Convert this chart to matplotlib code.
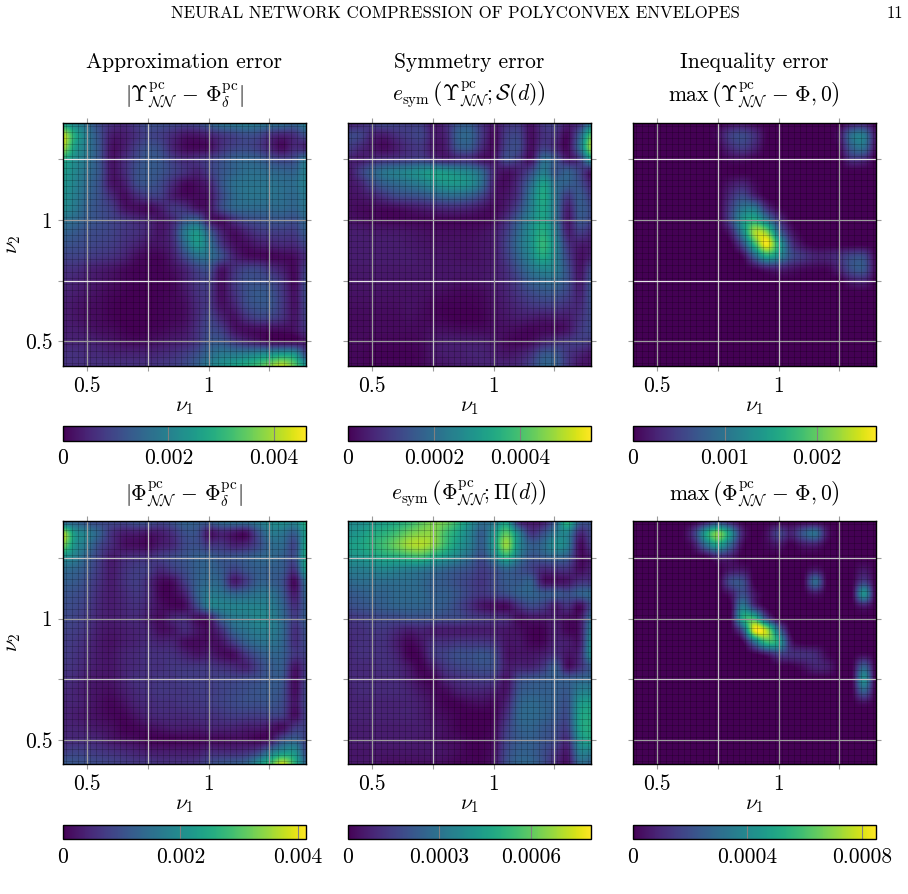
# error maps over (nu1, nu2) for the two network architectures
import numpy as np
import matplotlib
matplotlib.use('Agg')
import matplotlib.pyplot as plt

plt.rcParams['font.family'] = 'cmr10'
plt.rcParams['mathtext.fontset'] = 'cm'
plt.rcParams['axes.formatter.use_mathtext'] = True

W, H = 908, 894
FS = 15.5

nu = np.arange(21) * 0.05 + 0.4

# percent of the colorbar maximum, rows run from nu2 = 1.4 down to nu2 = 0.4
ups_approx = [
    [55, 45, 35, 22, 14, 12, 18, 24, 24, 22, 20, 22, 30, 38, 40, 42, 40, 38, 36, 32, 45],
    [92, 60, 40, 24, 8, 8, 14, 20, 18, 12, 6, 6, 10, 16, 20, 24, 22, 14, 10, 14, 25],
    [88, 55, 40, 25, 5, 8, 18, 25, 22, 10, 3, 2, 4, 14, 20, 22, 18, 10, 3, 12, 10],
    [62, 48, 38, 25, 6, 12, 22, 28, 26, 18, 12, 14, 18, 24, 30, 32, 30, 24, 20, 24, 40],
    [55, 46, 36, 26, 6, 12, 24, 28, 26, 20, 14, 10, 18, 26, 32, 36, 36, 34, 32, 32, 45],
    [52, 44, 34, 24, 6, 8, 22, 26, 22, 12, 3, 4, 10, 26, 36, 38, 38, 38, 36, 36, 45],
    [50, 42, 32, 24, 12, 4, 12, 18, 18, 8, 3, 3, 6, 22, 34, 38, 38, 38, 36, 34, 42],
    [48, 40, 30, 24, 18, 6, 4, 3, 8, 16, 14, 6, 6, 22, 32, 34, 34, 34, 34, 32, 40],
    [38, 34, 28, 24, 20, 16, 12, 10, 6, 12, 26, 30, 8, 4, 14, 22, 24, 26, 26, 24, 34],
    [32, 28, 24, 22, 20, 16, 14, 10, 6, 14, 40, 52, 30, 10, 4, 10, 16, 18, 18, 18, 30],
    [26, 24, 22, 20, 18, 14, 10, 6, 6, 12, 34, 52, 38, 16, 5, 4, 8, 10, 12, 12, 22],
    [20, 20, 18, 16, 14, 10, 4, 2, 2, 8, 22, 36, 36, 24, 10, 4, 3, 2, 3, 4, 14],
    [14, 14, 10, 8, 6, 3, 1, 1, 1, 4, 10, 20, 24, 6, 14, 20, 20, 14, 8, 3, 20],
    [12, 10, 8, 6, 4, 2, 1, 1, 1, 2, 8, 16, 18, 4, 16, 24, 24, 22, 14, 3, 24],
    [10, 8, 6, 4, 2, 1, 0, 0, 1, 2, 6, 14, 16, 4, 14, 24, 28, 26, 16, 5, 24],
    [8, 6, 4, 3, 1, 0, 0, 0, 1, 2, 4, 12, 16, 5, 10, 22, 26, 26, 16, 5, 22],
    [8, 6, 4, 3, 1, 0, 0, 0, 1, 2, 4, 12, 20, 10, 5, 14, 20, 20, 14, 6, 20],
    [8, 8, 6, 4, 3, 1, 0, 1, 2, 4, 6, 14, 22, 18, 6, 4, 4, 4, 4, 5, 16],
    [10, 10, 10, 8, 6, 4, 3, 4, 6, 8, 10, 16, 26, 26, 18, 12, 8, 4, 3, 3, 8],
    [14, 14, 12, 12, 10, 10, 10, 10, 12, 14, 18, 24, 34, 40, 40, 42, 46, 50, 54, 50, 22],
    [14, 14, 14, 14, 14, 14, 14, 14, 16, 18, 22, 30, 42, 50, 56, 62, 70, 82, 90, 75, 50],
]

ups_sym = [
    [8, 12, 18, 22, 20, 18, 18, 6, 12, 26, 28, 14, 6, 14, 16, 5, 16, 18, 8, 14, 40],
    [22, 20, 10, 8, 14, 18, 20, 8, 10, 30, 32, 16, 3, 18, 20, 4, 14, 14, 3, 30, 75],
    [18, 12, 6, 3, 8, 14, 16, 6, 8, 26, 28, 12, 3, 20, 22, 4, 18, 12, 3, 36, 88],
    [10, 8, 12, 14, 16, 18, 20, 14, 10, 14, 14, 6, 6, 22, 16, 5, 34, 26, 8, 18, 55],
    [6, 18, 30, 38, 42, 46, 50, 54, 52, 48, 44, 32, 10, 5, 10, 22, 42, 26, 30, 20, 6],
    [6, 10, 22, 30, 34, 38, 42, 48, 52, 52, 48, 34, 8, 4, 14, 34, 56, 36, 30, 24, 10],
    [5, 6, 10, 16, 22, 24, 26, 30, 34, 34, 30, 20, 6, 6, 16, 40, 60, 38, 18, 28, 16],
    [4, 3, 3, 3, 4, 6, 8, 10, 12, 12, 10, 6, 3, 8, 22, 42, 58, 38, 10, 28, 22],
    [5, 4, 3, 2, 2, 2, 2, 2, 2, 2, 2, 2, 4, 14, 30, 46, 58, 38, 8, 26, 20],
    [8, 8, 7, 7, 7, 6, 5, 4, 4, 4, 4, 5, 8, 18, 34, 50, 62, 42, 10, 18, 12],
    [8, 8, 8, 8, 8, 7, 6, 5, 5, 5, 5, 6, 8, 20, 36, 50, 66, 46, 16, 8, 8],
    [8, 8, 8, 8, 8, 8, 7, 6, 6, 5, 5, 6, 8, 18, 32, 46, 60, 44, 20, 5, 10],
    [7, 7, 7, 7, 7, 7, 7, 6, 6, 6, 6, 6, 8, 14, 26, 38, 46, 42, 24, 6, 22],
    [6, 6, 6, 6, 6, 6, 6, 6, 6, 5, 5, 6, 8, 12, 20, 30, 34, 34, 24, 8, 26],
    [5, 5, 5, 5, 5, 5, 5, 4, 3, 2, 2, 3, 6, 10, 16, 22, 26, 26, 20, 10, 26],
    [4, 4, 4, 4, 4, 5, 4, 2, 1, 1, 1, 2, 5, 8, 12, 16, 18, 18, 14, 12, 24],
    [3, 3, 3, 3, 3, 4, 3, 2, 1, 0, 0, 1, 4, 6, 8, 8, 7, 8, 8, 14, 22],
    [3, 3, 3, 3, 3, 3, 3, 4, 4, 3, 3, 3, 4, 4, 3, 2, 3, 3, 6, 16, 22],
    [3, 3, 2, 2, 2, 2, 3, 6, 8, 8, 8, 8, 6, 3, 2, 4, 10, 14, 16, 18, 16],
    [2, 2, 1, 1, 1, 1, 2, 6, 8, 8, 10, 10, 8, 6, 8, 14, 26, 26, 16, 10, 6],
    [2, 2, 1, 1, 1, 1, 2, 5, 6, 8, 8, 10, 10, 10, 12, 20, 32, 30, 16, 6, 5],
]

ups_ineq = [
    [0, 0, 0, 0, 0, 0, 0, 0, 4, 6, 2, 0, 0, 0, 0, 0, 0, 0, 8, 10, 0],
    [0, 0, 0, 0, 0, 0, 0, 4, 18, 22, 14, 1, 0, 0, 0, 0, 0, 6, 36, 40, 6],
    [0, 0, 0, 0, 0, 0, 0, 1, 12, 18, 10, 0, 0, 0, 0, 0, 0, 3, 30, 36, 4],
    [0, 0, 0, 0, 0, 0, 0, 0, 3, 4, 1, 0, 0, 0, 0, 0, 0, 0, 14, 12, 0],
    [0, 0, 0, 0, 0, 0, 0, 0, 0, 0, 0, 0, 0, 0, 0, 0, 0, 0, 0, 0, 0],
    [0, 0, 0, 0, 0, 0, 0, 0, 6, 10, 3, 0, 0, 0, 0, 0, 0, 0, 0, 0, 0],
    [0, 0, 0, 0, 0, 0, 0, 0, 12, 22, 10, 0, 0, 0, 0, 0, 0, 0, 0, 0, 0],
    [0, 0, 0, 0, 0, 0, 0, 0, 18, 38, 40, 14, 2, 0, 0, 0, 0, 0, 0, 0, 0],
    [0, 0, 0, 0, 0, 0, 0, 0, 20, 50, 62, 42, 16, 1, 0, 0, 0, 0, 0, 0, 0],
    [0, 0, 0, 0, 0, 0, 0, 0, 8, 44, 86, 82, 36, 8, 0, 0, 0, 0, 0, 0, 0],
    [0, 0, 0, 0, 0, 0, 0, 0, 0, 22, 66, 98, 60, 18, 4, 0, 0, 0, 0, 0, 0],
    [0, 0, 0, 0, 0, 0, 0, 0, 0, 2, 30, 58, 46, 24, 16, 10, 10, 14, 22, 22, 2],
    [0, 0, 0, 0, 0, 0, 0, 0, 0, 0, 2, 8, 10, 6, 3, 2, 2, 10, 24, 26, 3],
    [0, 0, 0, 0, 0, 0, 0, 0, 0, 0, 0, 0, 0, 0, 0, 0, 0, 0, 8, 10, 0],
    [0, 0, 0, 0, 0, 0, 0, 0, 0, 0, 0, 0, 0, 0, 0, 0, 0, 0, 0, 0, 0],
    [0, 0, 0, 0, 0, 0, 0, 0, 0, 0, 0, 0, 0, 0, 0, 0, 0, 0, 0, 0, 0],
    [0, 0, 0, 0, 0, 0, 0, 0, 0, 0, 0, 0, 0, 0, 0, 0, 0, 0, 0, 0, 0],
    [0, 0, 0, 0, 0, 0, 0, 0, 0, 0, 0, 0, 0, 0, 0, 0, 0, 0, 0, 0, 0],
    [0, 0, 0, 0, 0, 0, 0, 0, 0, 0, 0, 0, 0, 0, 0, 0, 0, 0, 0, 0, 0],
    [0, 0, 0, 0, 0, 0, 0, 0, 0, 0, 0, 0, 0, 0, 0, 0, 0, 0, 0, 0, 0],
    [0, 0, 0, 0, 0, 0, 0, 0, 0, 0, 0, 0, 0, 0, 0, 0, 0, 0, 0, 0, 0],
]

phi_approx = [
    [28, 30, 24, 22, 22, 22, 26, 26, 22, 26, 32, 30, 30, 36, 38, 38, 42, 48, 50, 46, 65],
    [88, 52, 42, 30, 14, 8, 8, 6, 8, 14, 24, 24, 6, 10, 6, 4, 24, 40, 38, 30, 58],
    [80, 50, 38, 22, 12, 5, 4, 3, 8, 12, 22, 24, 16, 16, 10, 12, 22, 34, 34, 22, 62],
    [50, 42, 30, 18, 8, 12, 14, 14, 18, 22, 26, 30, 30, 26, 26, 28, 32, 34, 30, 24, 62],
    [35, 32, 26, 16, 8, 14, 18, 18, 12, 18, 24, 30, 32, 28, 20, 26, 30, 30, 28, 16, 58],
    [30, 28, 22, 14, 8, 14, 18, 12, 3, 4, 18, 30, 34, 30, 8, 18, 30, 30, 24, 3, 40],
    [26, 24, 20, 12, 8, 12, 16, 12, 2, 2, 10, 30, 40, 38, 32, 34, 38, 38, 28, 8, 34],
    [24, 22, 18, 11, 8, 11, 14, 10, 4, 2, 4, 22, 42, 44, 44, 44, 44, 42, 32, 14, 30],
    [22, 20, 16, 10, 8, 10, 12, 8, 4, 10, 12, 5, 8, 30, 40, 42, 46, 44, 34, 18, 30],
    [20, 18, 14, 8, 6, 8, 10, 10, 4, 6, 12, 6, 4, 14, 32, 38, 42, 42, 34, 14, 26],
    [18, 16, 12, 7, 5, 8, 10, 12, 10, 10, 4, 3, 4, 6, 18, 30, 36, 38, 32, 14, 24],
    [18, 15, 11, 7, 6, 10, 12, 14, 14, 14, 10, 6, 8, 4, 4, 16, 26, 32, 30, 16, 20],
    [16, 14, 10, 7, 6, 10, 12, 14, 14, 16, 16, 16, 16, 14, 12, 10, 20, 28, 28, 6, 18],
    [14, 12, 8, 6, 6, 10, 14, 14, 16, 16, 18, 18, 18, 20, 20, 22, 24, 28, 26, 4, 20],
    [12, 10, 7, 5, 4, 8, 12, 14, 16, 16, 16, 18, 18, 20, 22, 24, 26, 28, 24, 4, 22],
    [10, 10, 7, 4, 2, 5, 10, 12, 14, 14, 16, 16, 18, 20, 22, 24, 24, 26, 22, 6, 22],
    [10, 8, 6, 4, 2, 2, 6, 10, 12, 12, 12, 14, 14, 16, 18, 18, 18, 20, 18, 4, 20],
    [10, 10, 8, 6, 4, 1, 2, 4, 6, 8, 8, 8, 10, 10, 10, 8, 8, 6, 4, 16, 20],
    [12, 12, 12, 10, 6, 4, 3, 1, 1, 1, 2, 2, 3, 3, 4, 4, 2, 6, 24, 30, 20],
    [18, 20, 18, 16, 14, 12, 10, 8, 8, 8, 8, 8, 12, 12, 12, 14, 20, 38, 50, 50, 22],
    [28, 26, 24, 22, 20, 18, 16, 16, 14, 14, 14, 16, 22, 26, 28, 32, 50, 70, 92, 65, 32],
]

phi_sym = [
    [48, 48, 52, 56, 60, 66, 74, 80, 78, 66, 50, 36, 40, 55, 12, 6, 8, 30, 66, 30, 26],
    [50, 54, 60, 64, 70, 78, 82, 82, 70, 58, 44, 30, 52, 74, 44, 16, 24, 40, 44, 12, 22],
    [56, 58, 64, 70, 78, 86, 88, 82, 68, 54, 42, 30, 55, 84, 48, 30, 34, 48, 42, 4, 18],
    [50, 52, 56, 60, 62, 66, 68, 60, 52, 44, 34, 24, 42, 62, 40, 26, 28, 32, 28, 4, 8],
    [42, 42, 44, 46, 44, 42, 40, 36, 32, 28, 24, 18, 24, 32, 26, 20, 12, 14, 14, 4, 10],
    [34, 36, 36, 36, 36, 36, 34, 30, 28, 24, 20, 16, 22, 28, 28, 30, 6, 5, 6, 14, 16],
    [28, 30, 32, 32, 34, 34, 34, 30, 30, 26, 20, 16, 20, 24, 30, 32, 28, 28, 24, 30, 34],
    [24, 26, 28, 30, 32, 32, 32, 30, 28, 22, 14, 6, 4, 3, 14, 22, 18, 8, 14, 3, 24],
    [16, 18, 20, 22, 22, 24, 24, 24, 22, 22, 18, 16, 14, 12, 4, 6, 6, 8, 4, 6, 36],
    [14, 14, 16, 16, 12, 8, 10, 8, 8, 8, 8, 8, 8, 6, 4, 1, 1, 8, 2, 6, 44],
    [12, 14, 14, 14, 8, 2, 6, 14, 14, 16, 16, 16, 14, 6, 6, 2, 2, 10, 8, 8, 50],
    [12, 14, 14, 14, 10, 1, 3, 16, 20, 24, 24, 26, 22, 6, 6, 6, 8, 14, 6, 12, 50],
    [12, 12, 12, 14, 12, 6, 1, 8, 16, 20, 22, 24, 22, 8, 10, 10, 16, 28, 5, 14, 30],
    [12, 12, 12, 12, 12, 8, 3, 2, 10, 14, 16, 18, 16, 6, 22, 26, 28, 30, 28, 32, 34],
    [10, 12, 12, 12, 12, 10, 6, 3, 3, 8, 10, 10, 8, 6, 26, 30, 30, 30, 28, 42, 44],
    [10, 10, 10, 10, 10, 10, 8, 4, 1, 1, 3, 4, 3, 10, 30, 34, 32, 30, 26, 52, 56],
    [10, 10, 10, 10, 10, 10, 8, 5, 3, 1, 0, 0, 2, 14, 32, 34, 32, 28, 24, 56, 60],
    [8, 8, 8, 8, 8, 8, 8, 6, 4, 1, 0, 0, 3, 18, 30, 32, 28, 24, 20, 56, 62],
    [8, 8, 8, 8, 8, 8, 7, 6, 4, 3, 1, 1, 4, 20, 28, 30, 26, 22, 14, 50, 58],
    [6, 6, 6, 6, 6, 6, 6, 6, 5, 3, 1, 1, 5, 22, 30, 30, 24, 16, 8, 42, 42],
    [6, 6, 6, 4, 4, 4, 4, 4, 3, 1, 1, 1, 6, 24, 32, 32, 24, 12, 5, 34, 30],
]

phi_ineq = [
    [0, 0, 0, 0, 0, 0, 6, 18, 8, 0, 0, 0, 0, 0, 0, 0, 0, 0, 0, 0, 0],
    [0, 0, 0, 0, 0, 16, 56, 80, 52, 10, 0, 4, 20, 10, 26, 36, 6, 0, 0, 0, 0],
    [0, 0, 0, 0, 0, 6, 34, 56, 32, 3, 0, 2, 6, 0, 6, 8, 0, 0, 0, 0, 0],
    [0, 0, 0, 0, 0, 0, 0, 10, 8, 0, 0, 0, 0, 0, 0, 0, 0, 0, 0, 0, 0],
    [0, 0, 0, 0, 0, 0, 0, 0, 6, 6, 0, 0, 0, 0, 0, 6, 0, 0, 0, 6, 0],
    [0, 0, 0, 0, 0, 0, 0, 0, 22, 24, 0, 0, 0, 0, 0, 34, 0, 0, 0, 18, 0],
    [0, 0, 0, 0, 0, 0, 0, 0, 6, 24, 6, 0, 0, 0, 0, 6, 0, 0, 0, 50, 0],
    [0, 0, 0, 0, 0, 0, 0, 0, 0, 40, 14, 0, 0, 0, 0, 0, 0, 0, 0, 8, 0],
    [0, 0, 0, 0, 0, 0, 0, 0, 0, 58, 66, 22, 0, 0, 0, 0, 0, 0, 0, 0, 0],
    [0, 0, 0, 0, 0, 0, 0, 0, 0, 24, 96, 88, 36, 0, 0, 0, 0, 0, 0, 0, 0],
    [0, 0, 0, 0, 0, 0, 0, 0, 0, 0, 34, 66, 56, 8, 0, 0, 0, 0, 0, 0, 0],
    [0, 0, 0, 0, 0, 0, 0, 0, 0, 0, 0, 6, 18, 14, 14, 12, 2, 0, 0, 3, 0],
    [0, 0, 0, 0, 0, 0, 0, 0, 0, 0, 0, 0, 0, 0, 4, 10, 8, 0, 0, 30, 0],
    [0, 0, 0, 0, 0, 0, 0, 0, 0, 0, 0, 0, 0, 0, 0, 0, 0, 0, 0, 48, 0],
    [0, 0, 0, 0, 0, 0, 0, 0, 0, 0, 0, 0, 0, 0, 0, 0, 0, 0, 0, 30, 0],
    [0, 0, 0, 0, 0, 0, 0, 0, 0, 0, 0, 0, 0, 0, 0, 0, 0, 0, 0, 4, 0],
    [0, 0, 0, 0, 0, 0, 0, 0, 0, 0, 0, 0, 0, 0, 0, 0, 0, 0, 0, 0, 0],
    [0, 0, 0, 0, 0, 0, 0, 0, 0, 0, 0, 0, 0, 0, 0, 0, 0, 0, 0, 0, 0],
    [0, 0, 0, 0, 0, 0, 0, 0, 0, 0, 0, 0, 0, 0, 0, 0, 0, 0, 0, 0, 0],
    [0, 0, 0, 0, 0, 0, 0, 0, 0, 0, 0, 0, 0, 0, 0, 0, 0, 0, 0, 0, 0],
    [0, 0, 0, 0, 0, 0, 0, 0, 0, 0, 0, 0, 0, 0, 0, 0, 0, 0, 0, 0, 0],
]

maps = [ups_approx, ups_sym, ups_ineq, phi_approx, phi_sym, phi_ineq]
vmaxs = [0.0046, 0.000564, 0.00264, 0.00413, 0.000796, 0.000848]
cb_ticks = [[0, 0.002, 0.004], [0, 0.0002, 0.0004], [0, 0.001, 0.002],
            [0, 0.002, 0.004], [0, 0.0003, 0.0006], [0, 0.0004, 0.0008]]
cb_labels = [['0', '0.002', '0.004'], ['0', '0.0002', '0.0004'], ['0', '0.001', '0.002'],
             ['0', '0.002', '0.004'], ['0', '0.0003', '0.0006'], ['0', '0.0004', '0.0008']]
titles = [r'$|\Upsilon_{\mathcal{N}\mathcal{N}}^{\mathrm{pc}} \,-\, \Phi_{\delta}^{\mathrm{pc}}|$',
          r'$e_{\mathrm{sym}}\,\left(\Upsilon_{\mathcal{N}\mathcal{N}}^{\mathrm{pc}}; \mathcal{S}(d)\right)$',
          r'$\max\,\left(\Upsilon_{\mathcal{N}\mathcal{N}}^{\mathrm{pc}} \,-\, \Phi, 0\right)$',
          r'$|\Phi_{\mathcal{N}\mathcal{N}}^{\mathrm{pc}} \,-\, \Phi_{\delta}^{\mathrm{pc}}|$',
          r'$e_{\mathrm{sym}}\,\left(\Phi_{\mathcal{N}\mathcal{N}}^{\mathrm{pc}}; \Pi(d)\right)$',
          r'$\max\,\left(\Phi_{\mathcal{N}\mathcal{N}}^{\mathrm{pc}} \,-\, \Phi, 0\right)$']
headers = ['Approximation error', 'Symmetry error', 'Inequality error']
tick_pos = [0.5, 0.75, 1, 1.25]
tick_txt = ['0.5', '', '1', '']

col_left = [62.7, 347.7, 632.7]
row_top = [122.7, 521.3]
cbar_top = [426, 824.5]
side = 243
cbar_h = 14.5

# rule colours per panel: verticals then horizontals at 0.5, 0.75, 1, 1.25
WH = '#e6e6e6'
SOFT = '#c4c4c4'
GR = '#9c9c9c'
v_cols = [[GR, SOFT, GR, GR], [GR, SOFT, GR, GR], [GR, SOFT, SOFT, GR],
          [GR, SOFT, GR, GR], [GR, SOFT, GR, SOFT], [GR, SOFT, GR, GR]]
h_cols = [[GR, WH, GR, WH], [GR, WH, GR, WH], [GR, WH, GR, WH],
          [GR, SOFT, GR, SOFT], [GR, SOFT, GR, SOFT], [GR, SOFT, GR, SOFT]]


def px_axes(fig, left, top, w, h):
    return fig.add_axes([left / W, 1 - (top + h) / H, w / W, h / H])


fig = plt.figure(figsize=(W / 100, H / 100), dpi=100)

for k in range(6):
    r, c = k // 3, k % 3
    ax = px_axes(fig, col_left[c], row_top[r], side, side)
    vals = np.array(maps[k]) / 100 * vmaxs[k]
    im = ax.imshow(vals, cmap='viridis', vmin=0, vmax=vmaxs[k], interpolation='catrom',
                   extent=[0.375, 1.425, 0.375, 1.425], aspect='auto')
    ax.set_xlim(0.4, 1.4)
    ax.set_ylim(0.4, 1.4)

    # thin cell outlines of the evaluation mesh
    mesh = np.arange(0.4125, 1.4, 0.025)
    ax.vlines(mesh, 0.4, 1.4, color='k', alpha=0.2, lw=0.7)
    ax.hlines(mesh, 0.4, 1.4, color='k', alpha=0.2, lw=0.7)

    for p, vc, hc in zip(tick_pos, v_cols[k], h_cols[k]):
        ax.axvline(p, color=vc, lw=0.9)
        ax.axhline(p, color=hc, lw=0.9)

    ax.set_xticks(tick_pos)
    ax.set_xticklabels(tick_txt)
    ax.set_yticks(tick_pos)
    ax.set_yticklabels(tick_txt if c == 0 else ['', '', '', ''])
    ax.tick_params(axis='both', which='both', top=True, right=True, direction='out', length=3.5,
                   width=0.8, color=GR, labelsize=FS, pad=4)
    for s in ax.spines.values():
        s.set_linewidth(1.0)
    ax.set_xlabel(r'$\nu_1$', fontsize=FS, labelpad=1)
    if c == 0:
        ax.set_ylabel(r'$\nu_2$', fontsize=FS, labelpad=1)

    cx = col_left[c] + side / 2
    if r == 0:
        fig.text(cx / W, 1 - 62 / H, headers[c], fontsize=FS, ha='center', va='center')
        fig.text(cx / W, 1 - 95 / H, titles[k], fontsize=FS, ha='center', va='center')
    else:
        fig.text(cx / W, 1 - 494 / H, titles[k], fontsize=FS, ha='center', va='center')

    cax = px_axes(fig, col_left[c], cbar_top[r], side, cbar_h)
    cb = fig.colorbar(im, cax=cax, orientation='horizontal', ticks=cb_ticks[k])
    cb.set_ticklabels(cb_labels[k])
    cb.ax.tick_params(length=0, labelsize=FS, pad=6)
    cb.outline.set_linewidth(1.0)
    for t in cb_ticks[k][1:]:
        cb.ax.axvline(t, color='#808080', lw=0.8)

fig.text(455 / W, 1 - 13 / H, 'NEURAL NETWORK COMPRESSION OF POLYCONVEX ENVELOPES',
         fontsize=12.1, ha='center', va='center')
fig.text(895 / W, 1 - 13 / H, '11', fontsize=12, ha='center', va='center')

fig.savefig('out.png', dpi=100)
